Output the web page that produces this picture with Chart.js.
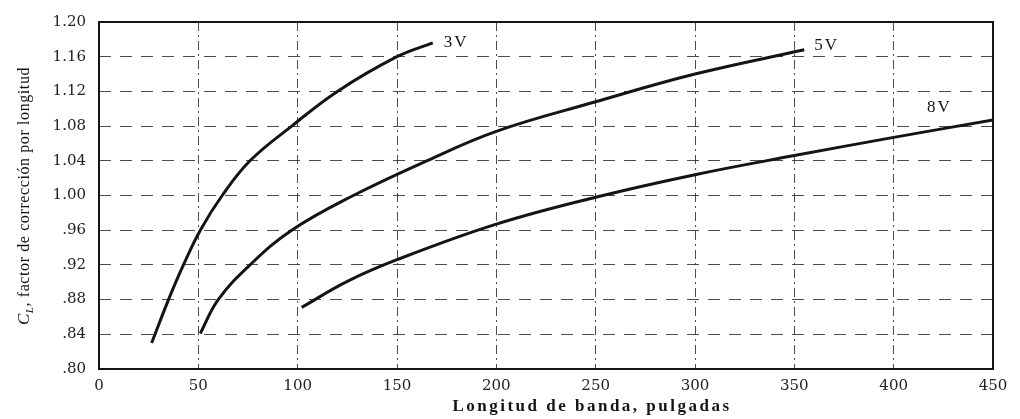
<!DOCTYPE html>
<html>
<head>
<meta charset="utf-8">
<script src="https://cdn.jsdelivr.net/npm/chart.js@4.4.1/dist/chart.umd.min.js"></script>
<style>
  html, body { margin: 0; padding: 0; background: #fff; }
  #wrap { width: 1020px; height: 419px; }
</style>
</head>
<body>
<div id="wrap"><canvas id="clChart" width="1020" height="419"></canvas></div>
<script>
// tick values / labels
const xTicks = [0, 50, 100, 150, 200, 250, 300, 350, 400, 450];
const yTicks = [0.80, 0.84, 0.88, 0.92, 0.96, 1.00, 1.04, 1.08, 1.12, 1.16, 1.20];
const yTickLabels = ['.80', '.84', '.88', '.92', '.96', '1.00', '1.04', '1.08', '1.12', '1.16', '1.20'];

// curves (length in inches -> C_L)
const seriesNames = ['3V', '5V', '8V'];
const len3V = [26.5, 35, 42.5, 51, 62, 76, 97, 120, 150, 168];
const cl3V  = [0.830, 0.880, 0.920, 0.960, 1.000, 1.040, 1.080, 1.120, 1.160, 1.176];
const len5V = [51, 60, 76, 97, 128, 165, 200, 250, 300, 355];
const cl5V  = [0.841, 0.880, 0.920, 0.960, 1.000, 1.040, 1.074, 1.108, 1.140, 1.168];
const len8V = [102, 125, 150, 200, 250, 300, 350, 400, 450];
const cl8V  = [0.871, 0.901, 0.926, 0.967, 0.998, 1.024, 1.046, 1.067, 1.087];

const xTitle = 'Longitud de banda, pulgadas';
const yTitleMain = ', factor de corrección por longitud';

const toPoints = (xs, ys) => xs.map((x, i) => ({ x: x, y: ys[i] }));

const ink = '#141414';
const gridInk = 'rgba(45,45,45,0.85)';
const serif = '"Liberation Serif", "DejaVu Serif", serif';

// label offsets from each curve's last point (px)
const labelOffsets = [[11, 0], [10, -4], [-66, -12]];

const extrasPlugin = {
    id: 'extras',
    afterDatasetsDraw(chart) {
        const { ctx, chartArea: a, scales } = chart;
        ctx.save();
        // frame
        ctx.strokeStyle = ink;
        ctx.lineWidth = 2;
        ctx.setLineDash([]);
        ctx.strokeRect(a.left, a.top, a.right - a.left, a.bottom - a.top);

        // curve labels
        ctx.fillStyle = ink;
        ctx.font = '17px ' + serif;
        ctx.letterSpacing = '2px';
        ctx.textAlign = 'left';
        ctx.textBaseline = 'middle';
        chart.data.datasets.forEach((ds, i) => {
            const last = ds.data[ds.data.length - 1];
            const px = scales.x.getPixelForValue(last.x) + labelOffsets[i][0];
            const py = scales.y.getPixelForValue(last.y) + labelOffsets[i][1];
            ctx.fillText(ds.label, px, py);
        });

        // x title
        ctx.font = 'bold 17px ' + serif;
        ctx.letterSpacing = '2.5px';
        ctx.textAlign = 'center';
        ctx.fillText(xTitle, 592, 407);

        // y title, rotated, with subscript L
        ctx.translate(25, 196);
        ctx.rotate(-Math.PI / 2);
        ctx.letterSpacing = '0.6px';
        ctx.font = 'italic 17px ' + serif;
        const wC = ctx.measureText('C').width;
        ctx.font = 'italic 11px ' + serif;
        const wL = ctx.measureText('L').width;
        ctx.font = '16px ' + serif;
        const wMain = ctx.measureText(yTitleMain).width;
        let x0 = -(wC + wL + wMain) / 2;
        ctx.textAlign = 'left';
        ctx.font = 'italic 17px ' + serif;
        ctx.fillText('C', x0, 0);
        ctx.font = 'italic 11px ' + serif;
        ctx.fillText('L', x0 + wC, 5);
        ctx.font = '16px ' + serif;
        ctx.fillText(yTitleMain, x0 + wC + wL, 0);
        ctx.restore();
    }
};

const lineStyle = {
    borderColor: ink,
    backgroundColor: ink,
    borderWidth: 3,
    pointRadius: 0,
    fill: false,
    tension: 0.4
};

const ctx = document.getElementById('clChart').getContext('2d');
const clChart = new Chart(ctx, {
    type: 'line',
    data: {
        datasets: [
            { label: seriesNames[0], data: toPoints(len3V, cl3V), ...lineStyle },
            { label: seriesNames[1], data: toPoints(len5V, cl5V), ...lineStyle },
            { label: seriesNames[2], data: toPoints(len8V, cl8V), ...lineStyle }
        ]
    },
    options: {
        responsive: false,
        animation: false,
        devicePixelRatio: 1,
        layout: { padding: { top: 17, right: 27, left: 0, bottom: 0 } },
        plugins: {
            legend: { display: false },
            tooltip: { enabled: false }
        },
        scales: {
            x: {
                type: 'linear',
                min: 0,
                max: 450,
                afterBuildTicks: (scale) => { scale.ticks = xTicks.map(v => ({ value: v })); },
                afterFit: (scale) => { scale.height = 50; },
                ticks: {
                    color: '#222',
                    font: { family: '"DejaVu Serif", serif', size: 15 },
                    padding: 8,
                    maxRotation: 0
                },
                grid: { color: gridInk, lineWidth: 1, drawTicks: false },
                border: { display: false, dash: [9, 4, 2, 4] }
            },
            y: {
                type: 'linear',
                min: 0.80,
                max: 1.20,
                afterBuildTicks: (scale) => { scale.ticks = yTicks.map(v => ({ value: v })); },
                afterFit: (scale) => { scale.width = 99; },
                ticks: {
                    color: '#222',
                    font: { family: '"DejaVu Serif", serif', size: 15 },
                    padding: 13,
                    callback: (value, index) => yTickLabels[index]
                },
                grid: { color: gridInk, lineWidth: 1, drawTicks: false },
                border: { display: false, dash: [12, 9] }
            }
        }
    },
    plugins: [extrasPlugin]
});
</script>
</body>
</html>
